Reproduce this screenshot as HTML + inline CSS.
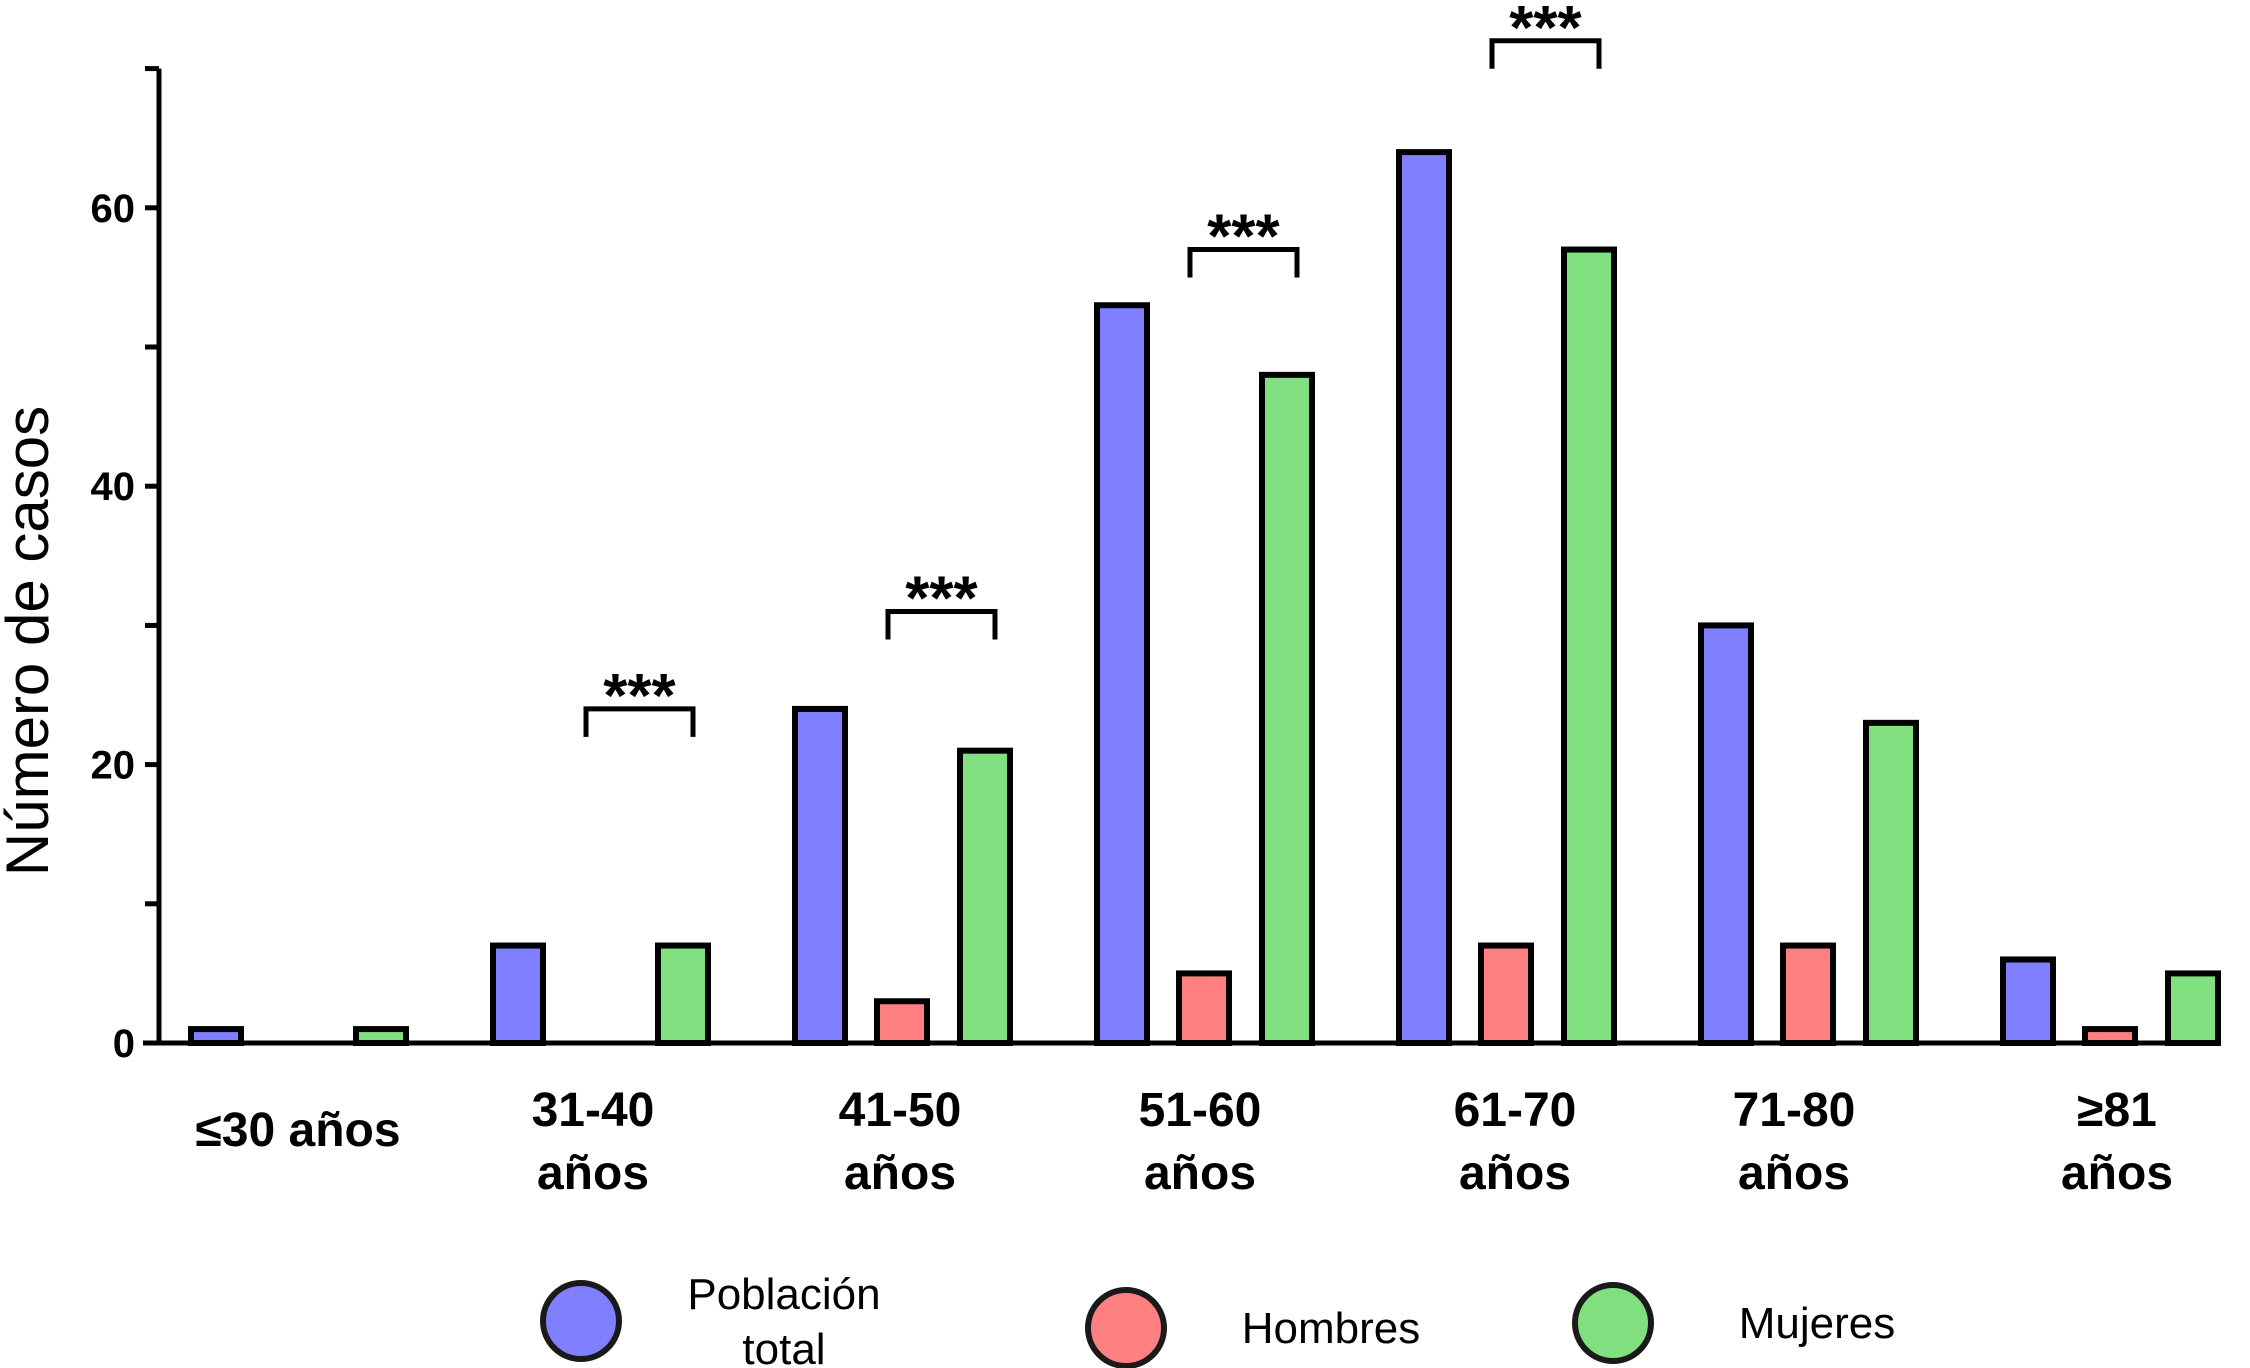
<!DOCTYPE html>
<html><head><meta charset="utf-8"><style>body{margin:0;background:#fff}svg{display:block}</style></head>
<body>
<svg id="chart" width="2250" height="1368" viewBox="0 0 2250 1368" xmlns="http://www.w3.org/2000/svg" font-family="'Liberation Sans', sans-serif">
<g id="marks"></g>
</svg>
<script>
const categories=["≤30 años","31-40 años","41-50 años","51-60 años","61-70 años","71-80 años","≥81 años"];
const poblacion=[1,7,24,53,64,30,6];
const hombres=[0,0,3,5,7,7,1];
const mujeres=[1,7,21,48,57,23,5];
const yTicks=[0,20,40,60];
const yMinor=[10,30,50];
const sigGroups=[1,2,3,4];
const sigValues=[24,31,57,72];
const NS="http://www.w3.org/2000/svg";
const svg=document.getElementById('chart');
const x0=159,y0=1043,unit=13.92,gStart=191,gStep=302,bw=50;
const y=v=>y0-v*unit;
const gx=i=>gStart+i*gStep;
function mk(t,a,p){const e=document.createElementNS(NS,t);for(const k in a)e.setAttribute(k,a[k]);(p||svg).appendChild(e);return e;}
const series=[[poblacion,0,'#7f7fff','poblacion'],[hombres,82,'#ff8080','hombres'],[mujeres,165,'#80e080','mujeres']];
series.forEach(([vals,off,col,nm])=>{vals.forEach((v,i)=>{if(v<=0)return;
const r=mk('rect',{x:gx(i)+off,y:y(v),width:bw,height:v*unit,fill:col,stroke:'#000','stroke-width':6});

});});
const ya=mk('line',{x1:x0,y1:y(70),x2:x0,y2:y0+2,stroke:'#000','stroke-width':5});

const xa=mk('line',{x1:x0-16,y1:y0,x2:2221,y2:y0,stroke:'#000','stroke-width':5});

mk('line',{x1:x0-14,y1:y(70),x2:x0,y2:y(70),stroke:'#000','stroke-width':5});
yTicks.forEach(v=>{mk('line',{x1:x0-14,y1:y(v),x2:x0,y2:y(v),stroke:'#000','stroke-width':5});
const t=mk('text',{x:x0-24,y:y(v)+14,'text-anchor':'end','font-size':40,'font-weight':'bold'});t.textContent=v;
});
yMinor.forEach(v=>mk('line',{x1:x0-14,y1:y(v),x2:x0,y2:y(v),stroke:'#000','stroke-width':5}));
const yt=mk('text',{x:0,y:0,transform:'translate(48,641) rotate(-90)','text-anchor':'middle','font-size':60});yt.textContent='Número de casos';

const labX=[298,593,900,1200,1515,1794,2117];
categories.forEach((c,i)=>{const g=mk('g',{});
if(i===0){const t=mk('text',{x:labX[i],y:1146,'text-anchor':'middle','font-size':48,'font-weight':'bold'},g);t.textContent=c;}
else{const p=c.split(' ');const a=mk('text',{x:labX[i],y:1126,'text-anchor':'middle','font-size':48,'font-weight':'bold'},g);a.textContent=p[0];
const b=mk('text',{x:labX[i],y:1189,'text-anchor':'middle','font-size':48,'font-weight':'bold'},g);b.textContent=p[1];}});
sigGroups.forEach((gi,k)=>{const l=gx(gi)+93,r=gx(gi)+200,yy=y(sigValues[k]);
const g=mk('g',{});
mk('polyline',{points:`${l},${yy+28} ${l},${yy} ${r},${yy} ${r},${yy+28}`,fill:'none',stroke:'#000','stroke-width':5},g);
const t=mk('text',{x:(l+r)/2,y:yy+8,'text-anchor':'middle','font-size':62,'font-weight':'bold'},g);t.textContent='***';});
const leg=[[581,1321,'#7f7fff',['Población','total'],784],[1126,1328,'#ff8080',['Hombres'],1331],[1613,1323,'#80e080',['Mujeres'],1817]];
leg.forEach(([cx,cy,col,txt,tx])=>{const g=mk('g',{});
mk('circle',{cx,cy,r:38,fill:col,stroke:'#1a1a1a','stroke-width':6},g);
if(txt.length===2){const a=mk('text',{x:tx,y:1309,'text-anchor':'middle','font-size':44},g);a.textContent=txt[0];
const b=mk('text',{x:tx,y:1364,'text-anchor':'middle','font-size':44},g);b.textContent=txt[1];}
else{const a=mk('text',{x:tx,y:cy+15,'text-anchor':'middle','font-size':44},g);a.textContent=txt[0];}});
</script>
</body></html>
